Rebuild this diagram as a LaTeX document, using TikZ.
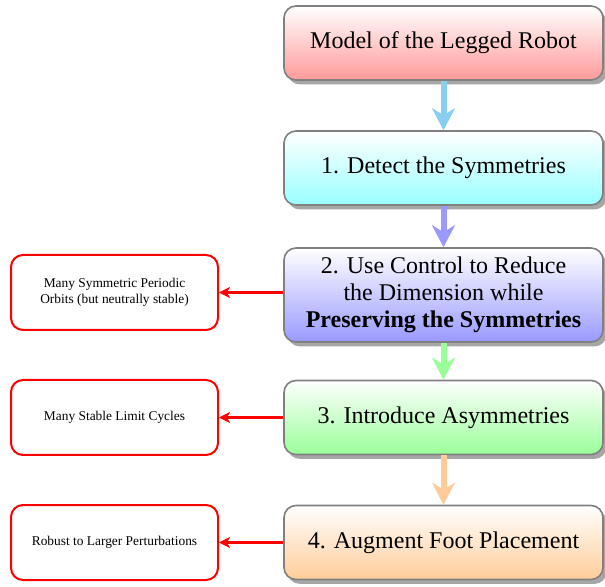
\documentclass[tikz,border=0pt]{standalone}
\usepackage{fontspec}
\setmainfont{Liberation Serif}
\usetikzlibrary{arrows.meta,shadows}

\definecolor{skyarrow}{RGB}{135,206,240}

\tikzset{
  stage/.style={rectangle,rounded corners=6pt,draw=black!50,line width=0.8pt,
    minimum width=159.5pt,minimum height=37pt,align=center,font=\fontsize{12}{13.5}\selectfont,
    drop shadow={shadow xshift=1.8pt,shadow yshift=-2.2pt,fill=black!35,opacity=1},
    top color=white},
  result/.style={rectangle,rounded corners=6pt,draw=red,line width=1pt,fill=white,
    minimum width=103.5pt,minimum height=37.5pt,align=center,font=\fontsize{6.7}{8}\selectfont},
  flow/.style={line width=3pt,-{Stealth[length=11pt,width=11.5pt,inset=3.5pt]}},
  effect/.style={red,line width=1.1pt,-{Stealth[length=5.5pt,width=5.5pt,inset=1.5pt]}}
}

\begin{document}
\begin{tikzpicture}[x=0.5pt,y=-0.5pt]
\useasboundingbox (0,0) rectangle (605,587);

\node[stage,bottom color=red!40] (model) at (443.5,43) {Model of the Legged Robot};
\node[stage,bottom color=cyan!40] (detect) at (443.5,168) {1. Detect the Symmetries};
\node[stage,bottom color=blue!40,minimum height=47pt] (reduce) at (443.5,295)
  {2. Use Control to Reduce\\the Dimension while\\\textbf{Preserving the Symmetries}};
\node[stage,bottom color=green!40] (asym) at (443.5,417.5) {3. Introduce Asymmetries};
\node[stage,bottom color=orange!40] (foot) at (443.5,542.5) {4. Augment Foot Placement};

\node[result] (orbits) at (114.5,292.5) {Many Symmetric Periodic\\Orbits (but neutrally stable)};
\node[result] (limit) at (114.5,417.5) {Many Stable Limit Cycles};
\node[result] (robust) at (114.5,542.5) {Robust to Larger Perturbations};

\draw[flow,skyarrow] (model) -- (detect);
\draw[flow,blue!40] (detect) -- (reduce);
\draw[flow,green!40] (reduce) -- (asym);
\draw[flow,orange!40] (asym) -- (foot);

\draw[effect] (reduce.west |- orbits) -- (orbits);
\draw[effect] (asym) -- (limit);
\draw[effect] (foot) -- (robust);
\end{tikzpicture}
\end{document}
